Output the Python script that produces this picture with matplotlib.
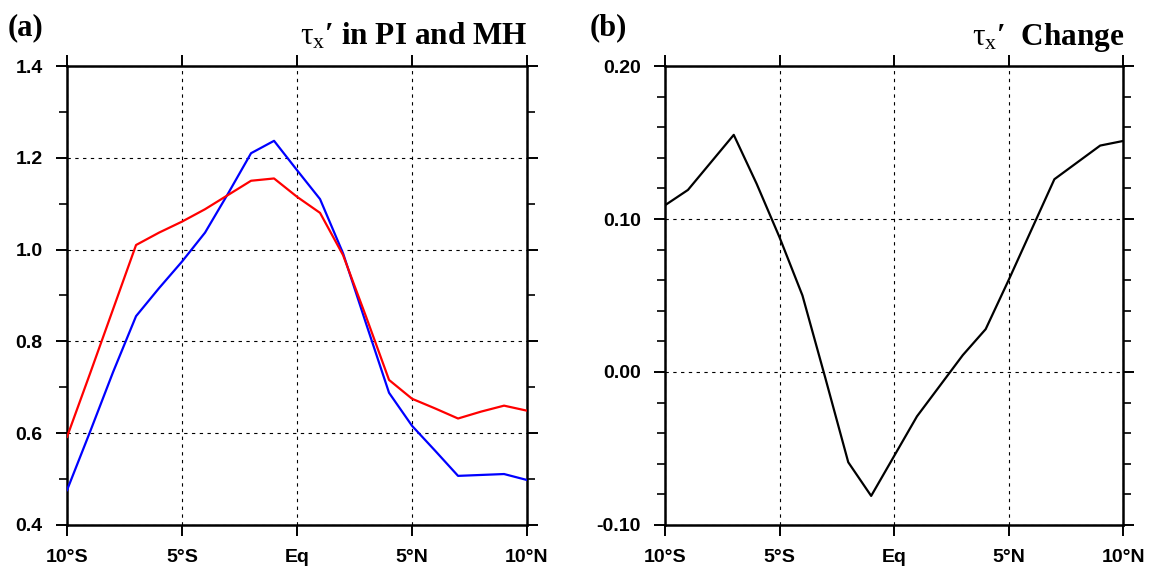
import numpy as np
import matplotlib.pyplot as plt
from matplotlib.ticker import MultipleLocator, FormatStrFormatter

plt.rcParams['mathtext.fontset'] = 'custom'
plt.rcParams['mathtext.rm'] = 'Liberation Serif'
plt.rcParams['mathtext.it'] = 'Liberation Serif'

# latitude (deg, negative = south)
lat = [-10, -9, -8, -7, -6, -5, -4, -3, -2, -1, 0, 1, 2, 3, 4, 5, 6, 7, 8, 9, 10]

# PI (blue) and MH (red) zonal wind stress anomaly
tau_pi = [0.476, 0.603, 0.733, 0.855, 0.916, 0.974, 1.037, 1.122, 1.210, 1.237,
          1.173, 1.110, 0.992, 0.839, 0.688, 0.616, 0.562, 0.507, 0.509, 0.511, 0.498]
tau_mh = [0.592, 0.730, 0.870, 1.010, 1.037, 1.061, 1.088, 1.119, 1.150, 1.155,
          1.115, 1.080, 0.988, 0.854, 0.716, 0.675, 0.654, 0.632, 0.647, 0.660, 0.649]

# change MH - PI
tau_diff = [0.109, 0.119, 0.137, 0.155, 0.123, 0.088, 0.050, -0.004, -0.059, -0.081,
            -0.055, -0.029, -0.009, 0.011, 0.028, 0.060, 0.093, 0.126, 0.137, 0.148, 0.151]

xticks = [-10, -5, 0, 5, 10]
xlabels = ['10°S', '5°S', 'Eq', '5°N', '10°N']

tick_font = dict(family='Liberation Sans', weight='bold', size=14)
title_font = dict(family='Liberation Serif', weight='bold', size=22.5)
panel_font = dict(family='Liberation Serif', weight='bold', size=22)


def style_axes(ax, ymin, ymax, ymajor, yminor, fmt):
    ax.set_xlim(-10, 10)
    ax.set_ylim(ymin, ymax)
    ax.set_xticks(xticks)
    ax.set_xticklabels(xlabels)
    ax.yaxis.set_major_locator(MultipleLocator(ymajor))
    ax.yaxis.set_minor_locator(MultipleLocator(yminor))
    ax.yaxis.set_major_formatter(FormatStrFormatter(fmt))
    for lab in ax.get_xticklabels() + ax.get_yticklabels():
        lab.set_fontproperties(tick_font)
    ax.tick_params(axis='both', which='major', direction='out', length=8, width=1.4,
                   top=True, right=True)
    ax.tick_params(axis='y', which='minor', direction='out', length=5.5, width=1.2,
                   right=True)
    ax.tick_params(axis='x', which='major', pad=9)
    ax.tick_params(axis='y', which='major', pad=9.5)
    for s in ax.spines.values():
        s.set_linewidth(1.8)
    ax.grid(True, which='major', color='black', linestyle=(0, (3, 4)), linewidth=0.8)


fig = plt.figure(figsize=(11.5, 5.73), dpi=100)
ax1 = fig.add_axes([0.0583, 0.0838, 0.4000, 0.801])
ax2 = fig.add_axes([0.5783, 0.0838, 0.3983, 0.801])

ax1.plot(lat, tau_pi, color='#0000ff', linewidth=1.6, zorder=3)
ax1.plot(lat, tau_mh, color='#ff0000', linewidth=1.6, zorder=3)
style_axes(ax1, 0.4, 1.4, 0.2, 0.1, '%.1f')

ax2.plot(lat, tau_diff, color='black', linewidth=1.6, zorder=3)
style_axes(ax2, -0.1, 0.2, 0.1, 0.02, '%.2f')

fig.text(0.007, 0.939, '(a)', ha='left', va='baseline', **panel_font)
fig.text(0.513, 0.939, '(b)', ha='left', va='baseline', **panel_font)
ax1.text(1.0, 1.046, r'$\mathrm{\tau_x}$′ in PI and MH', transform=ax1.transAxes,
         ha='right', va='baseline', **title_font)
ax2.text(1.004, 1.046, r'$\mathrm{\tau_x}$′  Change', transform=ax2.transAxes,
         ha='right', va='baseline', **title_font)

fig.savefig('out.png', dpi=100)
